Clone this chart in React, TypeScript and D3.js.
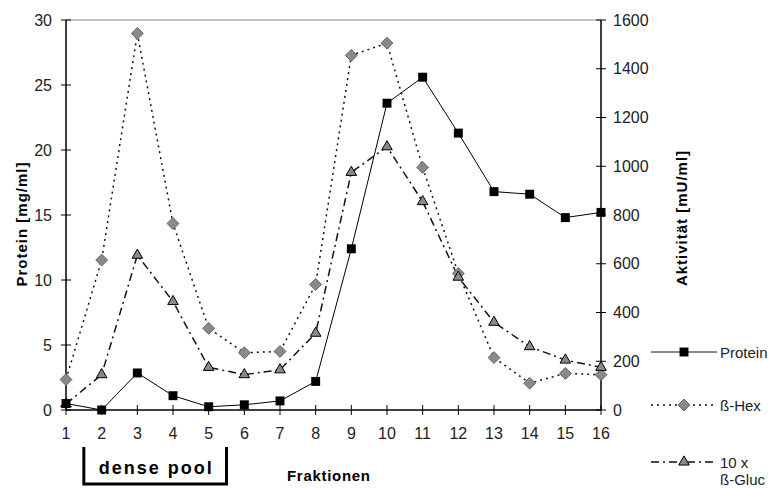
import { useEffect, useRef } from 'react';
import * as d3 from 'd3';

const fractions = [1, 2, 3, 4, 5, 6, 7, 8, 9, 10, 11, 12, 13, 14, 15, 16];
const protein = [0.5, 0.0, 2.85, 1.1, 0.25, 0.4, 0.7, 2.2, 12.4, 23.6, 25.6, 21.3, 16.8, 16.6, 14.8, 15.2];
const betaHex = [125, 615, 1545, 765, 335, 235, 240, 515, 1455, 1505, 995, 560, 215, 110, 150, 145];
const betaGluc = [25, 145, 635, 445, 175, 145, 165, 315, 975, 1080, 855, 545, 360, 260, 205, 175];
const leftTicks = [0, 5, 10, 15, 20, 25, 30];
const rightTicks = [0, 200, 400, 600, 800, 1000, 1200, 1400, 1600];

const W = 774;
const H = 488;
const FONT = '"Liberation Sans", Arial, sans-serif';

export default function App() {
    const svgRef = useRef<SVGSVGElement>(null);

    useEffect(() => {
        if (!svgRef.current) return;
        const svg = d3.select(svgRef.current);
        svg.selectAll('*').remove();

        const x = d3.scaleLinear().domain([1, 16]).range([66, 601]);
        const yL = d3.scaleLinear().domain([0, 30]).range([410, 20]);
        const yR = d3.scaleLinear().domain([0, 1600]).range([410, 20]);

        svg.append('rect').attr('width', W).attr('height', H).attr('fill', '#fff');

        // top border of plot area
        svg.append('line')
            .attr('x1', x(1)).attr('x2', x(16))
            .attr('y1', yL(30)).attr('y2', yL(30))
            .attr('stroke', '#888').attr('stroke-width', 1);

        // left axis
        const gL = svg.append('g');
        gL.append('line')
            .attr('x1', x(1)).attr('x2', x(1)).attr('y1', yL(0)).attr('y2', yL(30))
            .attr('stroke', '#000').attr('stroke-width', 1.5);
        leftTicks.forEach((t) => {
            gL.append('line')
                .attr('x1', x(1) - 5).attr('x2', x(1) + 5)
                .attr('y1', yL(t)).attr('y2', yL(t))
                .attr('stroke', '#000');
            gL.append('text')
                .attr('x', x(1) - 14).attr('y', yL(t))
                .attr('text-anchor', 'end').attr('dominant-baseline', 'central')
                .attr('font-family', FONT).attr('font-size', 16).attr('fill', '#222')
                .text(t);
        });

        // right axis
        const gR = svg.append('g');
        gR.append('line')
            .attr('x1', x(16)).attr('x2', x(16)).attr('y1', yR(0)).attr('y2', yR(1600))
            .attr('stroke', '#000').attr('stroke-width', 1.5);
        rightTicks.forEach((t) => {
            gR.append('line')
                .attr('x1', x(16) - 5).attr('x2', x(16) + 5)
                .attr('y1', yR(t)).attr('y2', yR(t))
                .attr('stroke', '#000');
            gR.append('text')
                .attr('x', x(16) + 12).attr('y', yR(t))
                .attr('text-anchor', 'start').attr('dominant-baseline', 'central')
                .attr('font-family', FONT).attr('font-size', 16).attr('fill', '#222')
                .text(t);
        });

        // x axis
        const gX = svg.append('g');
        gX.append('line')
            .attr('x1', x(1)).attr('x2', x(16)).attr('y1', yL(0)).attr('y2', yL(0))
            .attr('stroke', '#000').attr('stroke-width', 1.5);
        fractions.forEach((f) => {
            gX.append('line')
                .attr('x1', x(f)).attr('x2', x(f))
                .attr('y1', yL(0) - 5).attr('y2', yL(0) + 5)
                .attr('stroke', '#000');
            gX.append('text')
                .attr('x', x(f)).attr('y', 433)
                .attr('text-anchor', 'middle').attr('dominant-baseline', 'central')
                .attr('font-family', FONT).attr('font-size', 16).attr('fill', '#222')
                .text(f);
        });

        // axis titles
        svg.append('text')
            .attr('transform', `translate(27, 224) rotate(-90)`)
            .attr('text-anchor', 'middle')
            .attr('font-family', FONT).attr('font-size', 15).attr('font-weight', 'bold')
            .attr('letter-spacing', 1)
            .text('Protein [mg/ml]');
        svg.append('text')
            .attr('transform', `translate(687, 218) rotate(-90)`)
            .attr('text-anchor', 'middle')
            .attr('font-family', FONT).attr('font-size', 15).attr('font-weight', 'bold')
            .attr('letter-spacing', 1)
            .text('Aktivität [mU/ml]');
        svg.append('text')
            .attr('x', 287).attr('y', 481)
            .attr('font-family', FONT).attr('font-size', 15).attr('font-weight', 'bold')
            .attr('letter-spacing', 0.7)
            .text('Fraktionen');

        // dense pool bracket
        svg.append('path')
            .attr('d', `M${x(1.5)},447 V484 H${x(5.5)} V447`)
            .attr('fill', 'none').attr('stroke', '#000').attr('stroke-width', 3);
        svg.append('text')
            .attr('x', (x(1.5) + x(5.5)) / 2 + 1).attr('y', 474)
            .attr('text-anchor', 'middle')
            .attr('font-family', FONT).attr('font-size', 18).attr('font-weight', 'bold')
            .attr('letter-spacing', 2)
            .text('dense pool');

        const lineL = d3.line<number>().x((d, i) => x(fractions[i])).y((d) => yL(d));
        const lineR = d3.line<number>().x((d, i) => x(fractions[i])).y((d) => yR(d));

        const square = d3.symbol().type(d3.symbolSquare).size(80);
        const diamond = d3.symbol().type(d3.symbolDiamond2).size(90);
        const triangle = d3.symbol().type(d3.symbolTriangle2).size(80);

        // series lines
        svg.append('path').datum(betaHex).attr('d', lineR)
            .attr('fill', 'none').attr('stroke', '#111').attr('stroke-width', 1.5)
            .attr('stroke-dasharray', '2,4');
        svg.append('path').datum(betaGluc).attr('d', lineR)
            .attr('fill', 'none').attr('stroke', '#111').attr('stroke-width', 1.5)
            .attr('stroke-dasharray', '8,4,2,4');
        svg.append('path').datum(protein).attr('d', lineL)
            .attr('fill', 'none').attr('stroke', '#000').attr('stroke-width', 1);

        // markers
        betaHex.forEach((v, i) => {
            svg.append('path').attr('d', diamond)
                .attr('transform', `translate(${x(fractions[i])},${yR(v)})`)
                .attr('fill', '#8a8a8a').attr('stroke', '#666').attr('stroke-width', 1);
        });
        betaGluc.forEach((v, i) => {
            svg.append('path').attr('d', triangle)
                .attr('transform', `translate(${x(fractions[i])},${yR(v)})`)
                .attr('fill', '#8a8a8a').attr('stroke', '#000').attr('stroke-width', 1);
        });
        protein.forEach((v, i) => {
            svg.append('path').attr('d', square)
                .attr('transform', `translate(${x(fractions[i])},${yL(v)})`)
                .attr('fill', '#000');
        });

        // legend
        const legend = [
            { label: ['Protein'], y: 352, dash: null, sym: square, fill: '#000', stroke: 'none' },
            { label: ['ß-Hex'], y: 405, dash: '2,4', sym: diamond, fill: '#8a8a8a', stroke: '#666' },
            { label: ['10 x', 'ß-Gluc'], y: 462, dash: '8,4,2,4', sym: triangle, fill: '#8a8a8a', stroke: '#000' },
        ];
        legend.forEach((l) => {
            svg.append('line')
                .attr('x1', 651).attr('x2', 717).attr('y1', l.y).attr('y2', l.y)
                .attr('stroke', '#111').attr('stroke-width', l.dash ? 1.5 : 1)
                .attr('stroke-dasharray', l.dash);
            svg.append('path').attr('d', l.sym)
                .attr('transform', `translate(684,${l.y})`)
                .attr('fill', l.fill).attr('stroke', l.stroke);
            l.label.forEach((s, k) => {
                svg.append('text')
                    .attr('x', 720).attr('y', l.y + k * 17)
                    .attr('dominant-baseline', 'central')
                    .attr('font-family', FONT).attr('font-size', 15).attr('fill', '#222')
                    .text(s);
            });
        });
    }, []);

    return (
        <svg
            ref={svgRef}
            width={W}
            height={H}
            style={{ position: 'absolute', left: 0, top: 0, display: 'block' }}
        />
    );
}
